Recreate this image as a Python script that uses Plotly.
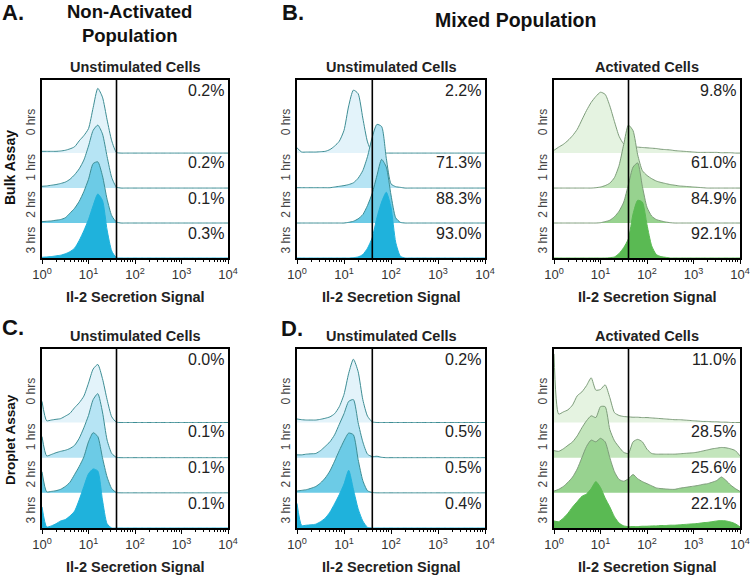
import plotly.graph_objects as go

# ---------------- data ----------------
LOG_GRID = [0.0, 0.1, 0.2, 0.3, 0.4, 0.5, 0.6, 0.7, 0.8, 0.9,
            1.0, 1.1, 1.2, 1.3, 1.4, 1.5, 1.6, 1.7, 1.8, 1.9,
            2.0, 2.1, 2.2, 2.3, 2.4, 2.5, 2.6, 2.7, 2.8, 2.9,
            3.0, 3.1, 3.2, 3.3, 3.4, 3.5, 3.6, 3.7, 3.8, 3.9, 4.0]
GATE = 40
ROW_LABELS = ["0 hrs", "1 hrs", "2 hrs", "3 hrs"]
TICK_VALS = [1, 10, 100, 1000, 10000]
TICK_TEXT = ["10<sup>0</sup>", "10<sup>1</sup>", "10<sup>2</sup>", "10<sup>3</sup>", "10<sup>4</sup>"]

# Panel A - non-activated, bulk, unstimulated
A_0HR = [0.05,0.05,0.05,0.05,0.06,0.08,0.12,0.18,0.35,0.5, 0.7,1.3,1.85,1.6,0.95,0.35,0.02,0,0,0, 0,0,0,0,0,0,0,0,0,0, 0,0,0,0,0,0,0,0,0,0,0]
A_1HR = [0.05,0.06,0.08,0.1,0.13,0.17,0.25,0.38,0.55,0.8, 1.2,1.65,1.8,1.55,0.9,0.3,0.03,0,0,0, 0,0,0,0,0,0,0,0,0,0, 0,0,0,0,0,0,0,0,0,0,0]
A_2HR = [0.04,0.05,0.06,0.08,0.1,0.15,0.28,0.42,0.62,0.9, 1.25,1.7,1.75,1.35,0.68,0.21,0.03,0,0,0, 0,0,0,0,0,0,0,0,0,0, 0,0,0,0,0,0,0,0,0,0,0]
A_3HR = [0.02,0.03,0.04,0.06,0.08,0.12,0.18,0.28,0.5,0.78, 1.1,1.5,1.83,1.65,0.8,0.2,0.01,0,0,0, 0,0,0,0,0,0,0,0,0,0, 0,0,0,0,0,0,0,0,0,0,0]
A_PCT = ["0.2%", "0.2%", "0.1%", "0.3%"]

# Panel B - mixed, bulk, unstimulated
B_0HR = [0.15,0.03,0.03,0.03,0.03,0.04,0.05,0.1,0.2,0.34, 0.65,1.35,1.8,1.7,1.0,0.32,0.02,0,0,0, 0,0,0,0,0,0,0,0,0,0, 0,0,0,0,0,0,0,0,0,0,0]
B_1HR = [0.01,0.01,0.01,0.01,0.01,0.01,0.01,0.01,0.03,0.05, 0.07,0.1,0.15,0.28,0.5,0.9,1.45,1.82,1.76,0.85, 0.12,0.04,0.02,0,0,0,0,0,0,0, 0,0,0,0,0,0,0,0,0,0,0]
B_2HR = [0,0,0,0,0,0,0,0,0,0, 0,0.02,0.05,0.12,0.24,0.5,0.85,1.35,1.82,1.6, 0.8,0.15,0.02,0,0,0,0,0,0,0, 0,0,0,0,0,0,0,0,0,0,0]
B_3HR = [0,0,0,0,0,0,0,0,0,0, 0,0,0.01,0.03,0.1,0.28,0.58,1.15,1.6,1.88, 1.45,0.45,0.05,0,0,0,0,0,0,0, 0,0,0,0,0,0,0,0,0,0,0]
B_PCT = ["2.2%", "71.3%", "88.3%", "93.0%"]

# Panel B - mixed, bulk, activated
G_0HR = [0.08,0.17,0.25,0.36,0.5,0.68,0.95,1.22,1.45,1.62, 1.74,1.68,1.35,0.9,0.48,0.26,0.2,0.18,0.17,0.16, 0.15,0.14,0.13,0.11,0.1,0.09,0.07,0.06,0.05,0.04, 0.03,0.02,0.02,0.02,0.02,0.02,0.01,0.01,0.01,0,0]
G_1HR = [0,0,0,0,0,0,0,0,0,0.01, 0.03,0.07,0.14,0.3,0.65,1.25,1.8,1.64,0.95,0.5, 0.36,0.27,0.2,0.16,0.13,0.1,0.08,0.06,0.05,0.04, 0.03,0.02,0.01,0,0,0,0,0,0,0,0]
G_2HR = [0,0,0,0,0,0,0,0,0,0, 0.01,0.04,0.08,0.18,0.34,0.6,1.1,1.6,1.72,1.05, 0.45,0.2,0.1,0.06,0.03,0.01,0,0,0,0, 0,0,0,0,0,0,0,0,0,0,0]
G_3HR = [0,0,0,0,0,0,0,0,0,0, 0,0,0.01,0.03,0.13,0.3,0.55,1.26,1.65,1.6, 0.95,0.35,0.1,0.04,0.02,0,0,0,0,0, 0,0,0,0,0,0,0,0,0,0,0]
G_PCT = ["9.8%", "61.0%", "84.9%", "92.1%"]

# Panel C - non-activated, droplet, unstimulated
C_0HR = [0.6,0.05,0.07,0.09,0.11,0.18,0.26,0.42,0.56,0.75, 1.12,1.52,1.65,1.25,0.65,0.16,0.01,0,0,0, 0,0,0,0,0,0,0,0,0,0, 0,0,0,0,0,0,0,0,0,0,0]
C_1HR = [0.6,0.05,0.09,0.14,0.18,0.21,0.26,0.35,0.55,0.85, 1.2,1.65,1.82,1.3,0.5,0.12,0.01,0,0,0, 0,0,0,0,0,0,0,0,0,0, 0,0,0,0,0,0,0,0,0,0,0]
C_2HR = [0.6,0.03,0.04,0.06,0.1,0.18,0.3,0.52,0.75,1.02, 1.45,1.71,1.6,1.0,0.45,0.12,0.01,0,0,0, 0,0,0,0,0,0,0,0,0,0, 0,0,0,0,0,0,0,0,0,0,0]
C_3HR = [0.6,0.03,0.06,0.12,0.2,0.24,0.34,0.48,0.8,1.18, 1.54,1.68,1.62,0.8,0.12,0,0,0,0,0, 0,0,0,0,0,0,0,0,0,0, 0,0,0,0,0,0,0,0,0,0,0]
C_PCT = ["0.0%", "0.1%", "0.1%", "0.1%"]

# Panel D - mixed, droplet, unstimulated
D_0HR = [0.1,0.08,0.07,0.07,0.07,0.09,0.12,0.16,0.25,0.45, 0.8,1.4,1.8,1.45,0.65,0.18,0.02,0,0,0, 0,0,0,0,0,0,0,0,0,0, 0,0,0,0,0,0,0,0,0,0,0]
D_1HR = [0.08,0.08,0.1,0.11,0.12,0.2,0.32,0.45,0.65,0.95, 1.25,1.6,1.65,1.0,0.45,0.1,0.03,0.04,0.01,0, 0,0,0,0,0,0,0,0,0,0, 0,0,0,0,0,0,0,0,0,0,0]
D_2HR = [0.05,0.07,0.09,0.13,0.18,0.28,0.42,0.62,0.9,1.2, 1.48,1.7,1.65,0.95,0.35,0.06,0.01,0,0,0, 0,0,0,0,0,0,0,0,0,0, 0,0,0,0,0,0,0,0,0,0,0]
D_3HR = [0.7,0.07,0.08,0.09,0.11,0.18,0.28,0.45,0.69,0.95, 1.25,1.64,1.1,0.55,0.2,0.02,0,0,0,0, 0,0,0,0,0,0,0,0,0,0, 0,0,0,0,0,0,0,0,0,0,0]
D_PCT = ["0.2%", "0.5%", "0.5%", "0.4%"]

# Panel D - mixed, droplet, activated
H_0HR = [1.95,0.24,0.3,0.36,0.5,0.76,0.87,1.05,1.27,0.92, 0.94,1.07,0.71,0.28,0.2,0.17,0.16,0.15,0.15,0.14, 0.14,0.13,0.12,0.11,0.1,0.09,0.08,0.08,0.07,0.06, 0.05,0.04,0.03,0.03,0.02,0.02,0.01,0.01,0,0,0]
H_1HR = [0.2,0.18,0.25,0.35,0.45,0.62,0.85,1.05,1.19,1.14, 1.45,1.45,0.8,0.48,0.3,0.15,0.12,0.45,0.52,0.45, 0.24,0.12,0.1,0.1,0.1,0.1,0.1,0.11,0.12,0.13, 0.14,0.16,0.19,0.22,0.25,0.27,0.29,0.28,0.25,0.2,0.05]
H_2HR = [0.05,0.1,0.18,0.3,0.45,0.68,1.0,1.32,1.5,1.45, 1.55,1.45,1.0,0.6,0.38,0.33,0.4,0.52,0.4,0.32, 0.26,0.2,0.14,0.12,0.11,0.1,0.1,0.13,0.15,0.17, 0.19,0.21,0.24,0.26,0.3,0.35,0.45,0.35,0.22,0.12,0.04]
H_3HR = [0.2,0.18,0.28,0.42,0.6,0.75,0.9,0.97,1.12,1.32, 1.15,0.85,0.6,0.32,0.14,0.06,0.04,0.04,0.04,0.05, 0.05,0.06,0.06,0.07,0.07,0.08,0.08,0.09,0.1,0.11, 0.12,0.13,0.15,0.16,0.18,0.2,0.21,0.2,0.17,0.12,0.03]
H_PCT = ["11.0%", "28.5%", "25.6%", "22.1%"]

# ---------------- styling ----------------
FONT = "Arial, Liberation Sans, sans-serif"
BLUE_FILLS = ["#e3f3fa", "#b6e4f4", "#6ccbe6", "#1fb2dc"]
BLUE_LINES = ["#3d8d94", "#3d8d94", "#3d8d94", "#1fb2dc"]
GREEN_FILLS = ["#e5f3e1", "#c3e5bc", "#97d28f", "#5aba53"]
GREEN_LINES = ["#7d9c7a", "#7d9c7a", "#7d9c7a", "#5aba53"]
YTOP = 5.09
PCT_Y = [4.8, 2.74, 1.71, 0.71]
ROW_LABEL_Y = [3.88, 2.58, 1.52, 0.5]

X = [10 ** v for v in LOG_GRID]

panels = [
    dict(curves=[A_0HR, A_1HR, A_2HR, A_3HR], pct=A_PCT, title="Unstimulated Cells",
         fills=BLUE_FILLS, lines=BLUE_LINES, dx=(42, 228), dy=(80, 258)),
    dict(curves=[B_0HR, B_1HR, B_2HR, B_3HR], pct=B_PCT, title="Unstimulated Cells",
         fills=BLUE_FILLS, lines=BLUE_LINES, dx=(297, 485), dy=(80, 258)),
    dict(curves=[G_0HR, G_1HR, G_2HR, G_3HR], pct=G_PCT, title="Activated Cells",
         fills=GREEN_FILLS, lines=GREEN_LINES, dx=(554, 740), dy=(80, 258)),
    dict(curves=[C_0HR, C_1HR, C_2HR, C_3HR], pct=C_PCT, title="Unstimulated Cells",
         fills=BLUE_FILLS, lines=BLUE_LINES, dx=(42, 228), dy=(349, 528)),
    dict(curves=[D_0HR, D_1HR, D_2HR, D_3HR], pct=D_PCT, title="Unstimulated Cells",
         fills=BLUE_FILLS, lines=BLUE_LINES, dx=(297, 485), dy=(349, 528)),
    dict(curves=[H_0HR, H_1HR, H_2HR, H_3HR], pct=H_PCT, title="Activated Cells",
         fills=GREEN_FILLS, lines=GREEN_LINES, dx=(554, 740), dy=(349, 528)),
]

W, H = 750, 576
fig = go.Figure()
layout = dict(width=W, height=H, margin=dict(l=0, r=0, t=0, b=0, autoexpand=False),
              paper_bgcolor="white", plot_bgcolor="white", showlegend=False,
              font=dict(family=FONT, color="#222"))
annotations = []
minor_vals = [m * 10 ** d for d in range(4) for m in range(2, 10)]

for i, p in enumerate(panels):
    s = "" if i == 0 else str(i + 1)
    xa, ya = "x" + s, "y" + s
    for r in range(4):
        off = 3 - r
        fig.add_trace(go.Scatter(x=X, y=[off] * len(X), mode="lines",
                                 line=dict(width=0, color="rgba(0,0,0,0)"),
                                 hoverinfo="skip", xaxis=xa, yaxis=ya))
        fig.add_trace(go.Scatter(x=X, y=[off + v for v in p["curves"][r]], mode="lines",
                                 fill="tonexty", fillcolor=p["fills"][r],
                                 line=dict(width=1, color=p["lines"][r], shape="spline", smoothing=0.6),
                                 hoverinfo="skip", xaxis=xa, yaxis=ya))
    fig.add_trace(go.Scatter(x=[GATE, GATE], y=[0, YTOP], mode="lines",
                             line=dict(width=1.6, color="black"), hoverinfo="skip",
                             xaxis=xa, yaxis=ya))
    x0, x1 = p["dx"]
    y0, y1 = p["dy"]
    layout["xaxis" + s] = dict(
        type="log", range=[0, 4], domain=[x0 / W, x1 / W], anchor=ya, automargin=False,
        tickvals=TICK_VALS, ticktext=TICK_TEXT, ticks="outside", ticklen=4,
        tickwidth=1, tickcolor="black", tickfont=dict(size=13, color="#333"),
        showline=True, mirror=True, linecolor="black", linewidth=1.5,
        showgrid=False, zeroline=False,
        minor=dict(tickvals=minor_vals, ticks="outside", ticklen=2, tickcolor="black", showgrid=False))
    layout["yaxis" + s] = dict(
        range=[0, YTOP], domain=[1 - y1 / H, 1 - y0 / H], anchor=xa, automargin=False,
        showticklabels=False, ticks="", showline=True, mirror=True, linecolor="black",
        linewidth=1.5, showgrid=False, zeroline=False)
    for r in range(4):
        annotations.append(dict(text=p["pct"][r], xref=xa + " domain", x=0.99, xanchor="right",
                                yref=ya, y=PCT_Y[r], yanchor="middle", showarrow=False,
                                font=dict(size=16, color="#222")))
        annotations.append(dict(text=ROW_LABELS[r], xref=xa + " domain", x=0, xshift=-11,
                                xanchor="center", yref=ya, y=ROW_LABEL_Y[r], yanchor="middle",
                                textangle=-90, showarrow=False, font=dict(size=12, color="#444")))
    cx = (x0 + x1) / 2 / W
    annotations.append(dict(text="<b>" + p["title"] + "</b>", xref="paper", x=cx, xanchor="center",
                            yref="paper", y=1 - (y0 - 13) / H, yanchor="middle", showarrow=False,
                            font=dict(size=14.5, color="#222")))
    annotations.append(dict(text="<b>Il-2 Secretion Signal</b>", xref="paper", x=cx, xanchor="center",
                            yref="paper", y=1 - (y1 + 39) / H, yanchor="middle", showarrow=False,
                            font=dict(size=14.5, color="#222")))

def ann(text, x, y, size, angle=0, xanchor="center"):
    annotations.append(dict(text=text, xref="paper", yref="paper", x=x / W, y=1 - y / H,
                            xanchor=xanchor, yanchor="middle", showarrow=False, textangle=angle,
                            font=dict(size=size, color="#111")))

ann("<b>A.</b>", 0, 13, 22, xanchor="left")
ann("<b>Non-Activated<br>Population</b>", 129, 23, 18.5)
ann("<b>B.</b>", 280, 13, 22, xanchor="left")
ann("<b>Mixed Population</b>", 515, 20, 19.5)
ann("<b>C.</b>", 0, 327, 22, xanchor="left")
ann("<b>D.</b>", 279, 328, 22, xanchor="left")
ann("<b>Bulk Assay</b>", 10, 168, 14, angle=-90)
ann("<b>Droplet Assay</b>", 10, 440, 13.5, angle=-90)

layout["annotations"] = annotations
fig.update_layout(**layout)
fig.write_html("out.html", config={"displayModeBar": False},
               post_script="document.body.style.margin='0';")
